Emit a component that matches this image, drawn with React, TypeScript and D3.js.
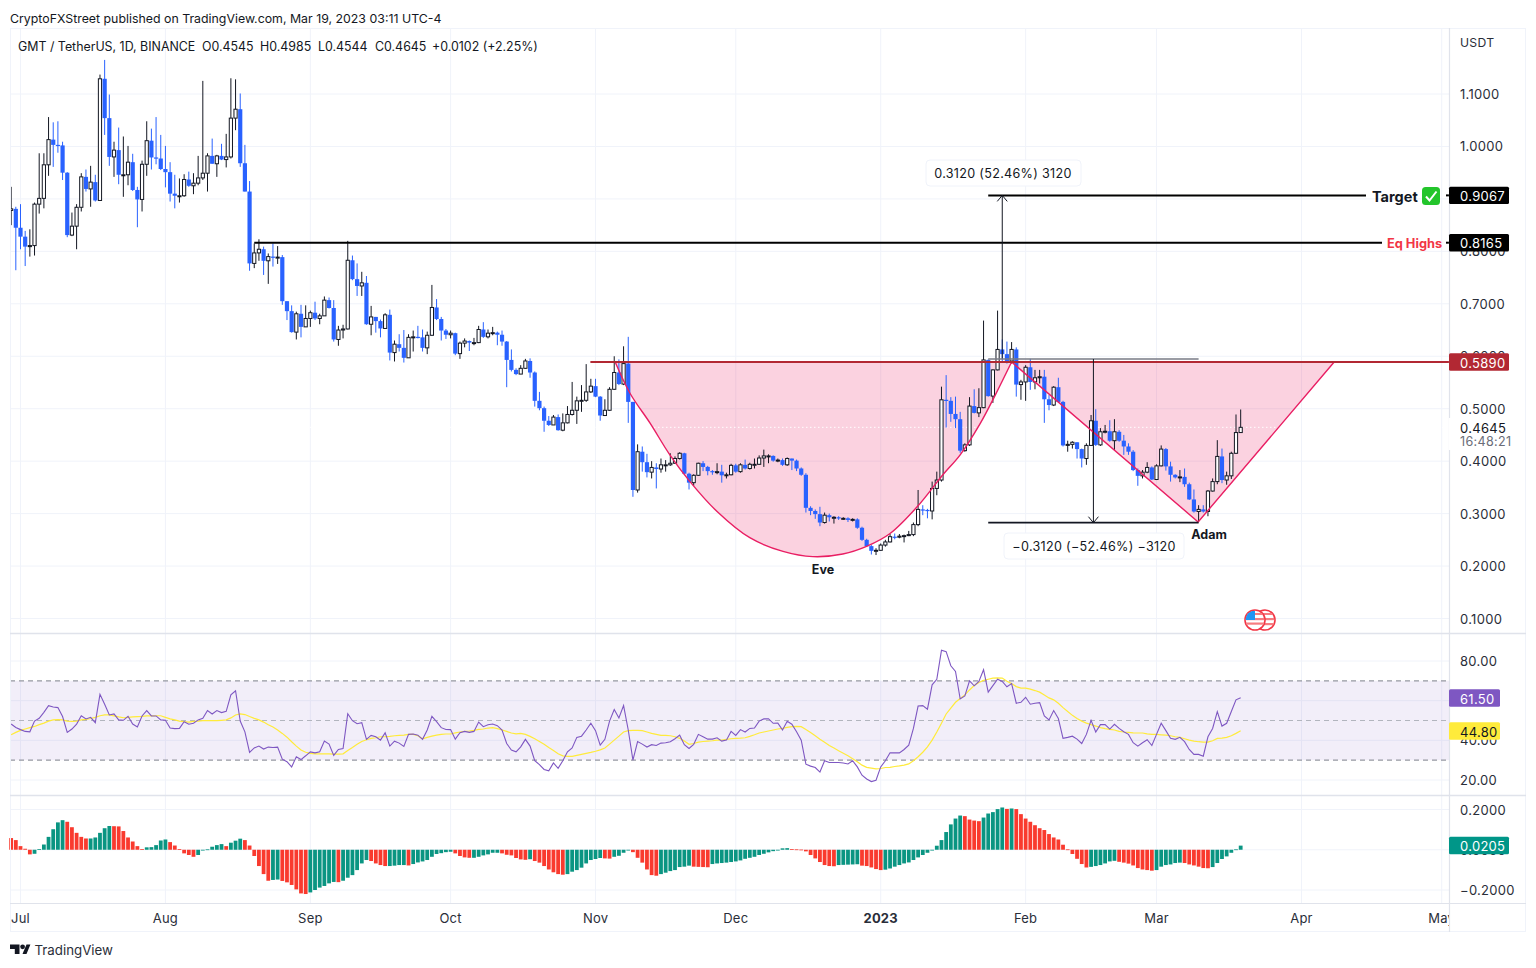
import React from 'react';
import * as d3 from 'd3';

// daily candles, first bar is index -2 (Jun 29), last is 261 (Mar 19)
const firstBar = -2;
const firstOpen = 0.878;
const closes = [
  .881,.845,.828,.809,.811,.890,.901,.965,1.013,1.003,
  1.002,.950,.831,.848,.884,.942,.919,.932,.897,1.129,
  1.054,.980,.993,.946,.946,.970,.917,.899,.966,1.011,
  .979,.977,.957,.951,.910,.906,.906,.937,.925,.930,
  .940,.949,.982,.967,.982,.975,.980,1.054,1.071,.968,
  .914,.777,.797,.804,.782,.790,.788,.789,.705,.686,
  .646,.681,.656,.672,.683,.672,.677,.707,.692,.632,
  .650,.652,.783,.747,.734,.740,.661,.675,.667,.653,
  .679,.607,.623,.616,.597,.636,.637,.636,.616,.640,
  .693,.671,.649,.641,.644,.605,.625,.629,.626,.626,
  .651,.637,.644,.645,.641,.628,.593,.574,.566,.577,
  .591,.569,.515,.501,.477,.469,.484,.459,.473,.489,
  .497,.515,.516,.532,.543,.523,.487,.497,.537,.569,
  .547,.586,.513,.345,.418,.398,.379,.388,.385,.393,
  .393,.396,.405,.415,.376,.359,.373,.396,.389,.381,
  .379,.380,.373,.374,.392,.380,.393,.386,.394,.394,
  .406,.410,.410,.401,.402,.393,.405,.401,.386,.374,
  .311,.305,.299,.283,.297,.293,.293,.291,.291,.288,
  .289,.273,.250,.238,.229,.230,.240,.246,.256,.255,
  .257,.258,.260,.279,.308,.307,.305,.348,.364,.517,
  .515,.490,.480,.420,.431,.505,.492,.502,.593,.524,
  .574,.613,.604,.591,.613,.546,.551,.579,.551,.559,
  .561,.518,.507,.541,.513,.430,.432,.436,.423,.405,
  .430,.477,.431,.456,.457,.439,.456,.439,.428,.418,
  .383,.372,.379,.388,.365,.391,.423,.390,.374,.369,
  .370,.356,.327,.304,.308,.304,.343,.361,.409,.364,
  .372,.415,.4545,.4645,
];
const highs = [
  .923,.885,.890,.839,.842,.893,.987,.987,1.056,1.046,
  1.048,1.009,.951,.874,.890,.949,.956,.963,.946,1.137,
  1.165,1.099,1.009,1.036,1.019,1.001,.986,.923,.973,1.048,
  1.034,1.056,1.022,1.001,.970,.946,.939,.947,.952,.949,
  .982,1.125,.987,1.015,.984,1.005,1.024,1.130,1.128,1.101,
  1.003,.934,.815,.823,.809,.796,.815,.810,.793,.705,
  .697,.685,.698,.697,.687,.704,.681,.714,.712,.707,
  .658,.660,.820,.792,.777,.761,.753,.696,.675,.670,
  .682,.689,.630,.642,.650,.642,.649,.658,.651,.647,
  .736,.709,.675,.652,.649,.645,.628,.634,.630,.635,
  .658,.665,.651,.656,.647,.649,.629,.613,.577,.583,
  .595,.596,.571,.532,.504,.486,.488,.489,.491,.505,
  .551,.523,.545,.585,.557,.557,.524,.518,.541,.600,
  .594,.619,.637,.513,.432,.428,.414,.400,.396,.405,
  .402,.415,.409,.417,.416,.378,.375,.397,.400,.391,
  .383,.396,.393,.378,.395,.395,.396,.403,.397,.405,
  .411,.422,.413,.411,.405,.405,.407,.405,.403,.388,
  .377,.314,.308,.313,.302,.300,.295,.295,.293,.293,
  .291,.291,.275,.252,.240,.234,.243,.250,.261,.262,
  .261,.260,.267,.283,.345,.316,.309,.361,.380,.542,
  .564,.522,.523,.494,.434,.522,.537,.539,.668,.594,
  .575,.687,.632,.628,.627,.617,.555,.583,.595,.574,
  .574,.574,.526,.543,.559,.515,.439,.438,.436,.424,
  .434,.488,.499,.463,.469,.478,.480,.459,.450,.434,
  .421,.386,.383,.398,.390,.394,.430,.425,.399,.375,
  .383,.386,.359,.346,.316,.316,.345,.367,.440,.424,
  .380,.418,.489,.4985,
];
const lows = [
  .850,.764,.804,.772,.790,.792,.872,.882,.944,.961,
  .988,.936,.827,.829,.804,.876,.914,.885,.895,.897,
  1.022,.963,.942,.928,.904,.926,.915,.846,.876,.944,
  .956,.966,.955,.922,.895,.882,.893,.904,.923,.909,
  .926,.936,.914,.967,.942,.974,.960,.977,1.031,.961,
  .914,.763,.768,.782,.755,.738,.771,.776,.698,.669,
  .645,.632,.636,.656,.656,.669,.661,.677,.691,.628,
  .620,.634,.651,.745,.715,.715,.660,.640,.645,.636,
  .653,.592,.590,.609,.588,.597,.609,.634,.609,.604,
  .639,.669,.630,.633,.634,.602,.595,.617,.610,.621,
  .625,.635,.634,.640,.621,.620,.541,.571,.564,.566,
  .576,.559,.504,.497,.456,.467,.469,.458,.457,.472,
  .487,.471,.494,.513,.530,.522,.477,.486,.496,.536,
  .545,.545,.473,.332,.340,.380,.369,.367,.348,.378,
  .380,.391,.395,.403,.374,.346,.353,.372,.381,.373,
  .374,.375,.359,.367,.373,.378,.378,.384,.384,.386,
  .393,.389,.396,.399,.398,.391,.391,.383,.381,.372,
  .302,.297,.290,.276,.281,.285,.281,.288,.288,.284,
  .285,.271,.248,.237,.222,.221,.229,.237,.245,.251,
  .253,.245,.257,.257,.276,.297,.291,.289,.335,.361,
  .464,.475,.463,.416,.418,.429,.491,.484,.501,.523,
  .511,.573,.590,.586,.586,.523,.517,.515,.536,.537,
  .548,.473,.497,.505,.511,.428,.418,.424,.405,.388,
  .393,.429,.429,.429,.453,.437,.421,.437,.412,.412,
  .381,.353,.367,.377,.364,.364,.390,.382,.361,.367,
  .360,.351,.326,.302,.285,.302,.295,.342,.356,.358,
  .355,.366,.414,.4544,
];
const rsi = [
  48.2,46.5,45.4,44.5,44.3,49.7,51.1,54.1,57.5,56.8,
  56.5,52.0,44.0,45.7,48.2,52.4,50.8,51.6,48.9,63.2,
  58.2,52.8,53.3,50.3,50.1,52.1,48.2,46.7,52.3,55.0,
  52.3,52.3,50.3,50.1,46.2,45.9,46.0,49.4,48.1,48.6,
  50.3,51.1,55.0,53.3,55.0,54.0,54.6,62.9,65.0,49.7,
  44.3,33.9,36.2,37.1,35.6,36.6,36.4,36.6,30.5,29.2,
  26.6,31.7,30.3,32.2,34.2,33.7,34.2,39.6,38.1,32.4,
  35.4,35.9,53.4,49.9,48.4,48.9,40.5,42.5,41.8,40.1,
  43.8,37.1,39.6,38.6,36.9,43.0,43.2,42.6,40.5,45.2,
  52.1,49.4,46.4,45.5,45.4,40.6,43.8,44.5,44.0,44.5,
  49.2,46.9,47.9,48.2,47.4,45.2,38.4,35.1,34.2,
  36.7,40.5,37.1,29.7,27.8,25.3,24.6,28.6,25.9,29.7,
  34.2,36.2,41.5,42.1,45.2,48.6,44.9,37.6,40.5,49.7,
  55.5,51.3,57.5,45.2,30.0,39.4,38.1,36.6,37.8,37.4,
  38.6,38.8,39.3,40.8,42.6,37.8,35.9,38.0,43.0,41.8,
  40.6,40.6,41.3,39.6,40.1,44.5,42.5,45.4,44.2,46.0,
  46.2,49.7,50.8,50.9,48.6,48.7,45.2,49.6,48.1,44.3,
  40.1,28.0,27.0,26.3,24.0,29.7,28.8,28.8,28.8,28.6,
  28.1,29.7,26.6,22.4,20.5,19.2,19.9,26.6,29.7,33.7,
  33.7,33.7,35.4,37.6,46.0,57.3,57.5,55.7,68.0,70.8,
  85.4,84.7,77.6,74.7,60.9,62.4,70.0,67.5,69.7,75.6,
  64.3,67.6,70.8,69.7,67.0,68.6,58.7,
  59.2,61.7,58.2,58.7,59.0,52.3,50.3,55.0,51.0,41.0,
  41.5,42.1,40.6,38.4,43.0,50.1,44.2,47.9,47.9,45.7,
  48.1,46.0,44.3,43.0,38.8,37.1,38.8,40.3,37.4,43.0,
  48.6,44.9,41.0,40.5,41.5,39.3,35.4,32.9,32.9,32.0,
  41.8,46.0,54.5,47.2,48.6,54.5,60.4,61.5,
];
const rsiMa = [
  42.8,44.0,45.0,45.7,46.4,47.0,47.9,48.7,49.7,50.3,
  50.4,50.3,49.7,49.6,49.7,50.3,50.6,51.0,51.6,52.4,
  52.8,52.8,52.3,51.8,51.4,51.6,51.8,52.0,52.1,52.3,
  52.3,52.4,52.4,51.6,50.8,50.3,49.7,49.4,49.2,49.6,
  49.7,49.9,49.9,49.9,49.9,50.1,50.3,51.3,52.8,53.3,
  53.0,52.0,51.1,50.3,49.2,47.9,46.7,45.2,43.5,41.6,
  39.3,37.1,35.1,34.0,33.4,33.2,33.2,33.2,33.2,33.0,
  33.0,33.2,34.9,36.4,38.0,39.4,40.3,41.0,41.3,41.8,
  41.8,42.0,42.3,42.5,42.6,43.0,43.0,42.3,40.8,41.5,
  42.1,42.6,43.0,43.2,43.2,43.8,44.2,44.5,44.7,45.0,
  45.5,45.7,46.2,46.4,45.9,45.2,44.5,43.7,43.3,
  43.5,43.0,42.0,40.8,39.4,38.0,36.4,34.9,33.2,32.2,
  31.9,31.9,32.4,32.9,33.4,33.9,34.5,35.2,36.1,38.1,
  40.1,42.1,44.2,44.9,45.0,45.0,44.9,44.2,43.5,43.0,
  42.5,42.5,42.3,41.8,41.0,39.6,38.0,38.4,39.1,39.4,
  39.6,39.8,40.1,40.1,40.5,40.8,41.0,41.1,41.3,42.0,
  42.8,43.7,44.2,44.7,45.2,45.7,46.0,46.5,46.9,47.0,
  46.9,45.5,44.0,42.3,40.6,39.0,37.4,36.1,34.7,33.5,
  32.2,30.7,29.2,27.5,26.4,26.0,25.6,25.8,26.3,26.4,
  26.8,27.1,27.5,28.1,29.7,31.7,34.0,36.7,40.1,44.2,
  48.6,53.3,56.3,59.2,61.1,62.9,65.4,67.6,69.2,70.2,
  70.8,71.4,71.5,71.4,69.8,68.6,67.1,
  66.3,66.3,65.8,65.1,64.3,62.9,61.4,60.4,58.7,56.5,
  54.5,52.6,51.0,49.7,48.7,47.9,47.2,46.4,45.9,45.5,
  45.2,44.5,44.2,44.0,43.8,43.7,43.7,43.3,43.0,43.0,
  42.8,42.6,42.3,41.8,41.5,40.8,40.1,39.6,39.3,39.1,
  39.1,39.8,41.0,41.1,41.5,42.3,43.5,44.8,
];
const oscillator = [
  .058,.048,.018,.005,-.023,-.020,.003,.026,.064,.102,
  .136,.147,.139,.112,.084,.064,.056,.056,.061,.084,
  .107,.118,.117,.116,.093,.061,.041,.018,.003,.012,
  .013,.023,.046,.051,.038,.021,.003,-.018,-.026,-.035,
  -.026,-.002,.002,.015,.023,.028,.018,.035,.045,.055,
  .048,.021,-.031,-.081,-.121,-.154,-.150,-.148,-.155,-.162,
  -.175,-.197,-.217,-.220,-.212,-.200,-.188,-.180,-.167,-.160,
  -.161,-.154,-.139,-.126,-.101,-.068,-.051,-.056,-.068,-.076,
  -.081,-.081,-.079,-.076,-.076,-.078,-.071,-.063,-.058,-.051,
  -.035,-.021,-.017,-.012,-.010,-.018,-.031,-.038,-.040,-.040,
  -.035,-.028,-.023,-.015,-.015,-.018,-.025,-.028,-.041,-.048,
  -.050,-.047,-.056,-.064,-.081,-.098,-.112,-.121,-.124,-.121,
  -.109,-.101,-.089,-.068,-.051,-.046,-.041,-.043,-.044,-.035,
  -.030,-.015,-.002,-.012,-.040,-.064,-.098,-.126,-.129,-.121,
  -.114,-.106,-.101,-.086,-.084,-.079,-.084,-.085,-.086,-.087,
  -.071,-.068,-.066,-.064,-.061,-.058,-.053,-.045,-.040,-.035,
  -.026,-.020,-.013,-.007,-.002,.007,.008,.003,.002,.001,
  -.008,-.026,-.043,-.061,-.076,-.081,-.082,-.076,-.075,-.074,
  -.073,-.072,-.079,-.081,-.088,-.096,-.101,-.099,-.093,-.084,
  -.076,-.068,-.063,-.051,-.038,-.026,-.015,-.002,.020,.048,
  .088,.126,.155,.170,.167,.150,.145,.142,.160,.180,
  .187,.202,.210,.203,.205,.202,.177,.155,.139,.122,
  .107,.098,.078,.061,.051,.025,.002,-.021,-.045,-.071,
  -.088,-.085,-.081,-.076,-.068,-.058,-.055,-.060,-.064,-.069,
  -.078,-.091,-.098,-.101,-.104,-.101,-.084,-.076,-.073,-.066,
  -.064,-.066,-.073,-.078,-.084,-.091,-.092,-.086,-.066,-.046,
  -.033,-.015,.002,.0205,
];

const monthBars = [0, 31, 62, 92, 123, 153, 184, 215, 243, 274, 304];
const monthLabels = ['Jul', 'Aug', 'Sep', 'Oct', 'Nov', 'Dec', '2023', 'Feb', 'Mar', 'Apr', 'May'];
const priceTicks = [0.1, 0.2, 0.3, 0.4, 0.5, 0.6, 0.7, 0.8, 0.9, 1.0, 1.1];
const rsiTicks = [20, 40, 60, 80];
const rsiLevels = [70, 50, 30];
const oscTicks = [-0.2, 0, 0.2];

// rounded bottom of the cup, bar index and price
const eveBars = [127.2, 130.4, 134.7, 138.9, 143.2, 149, 156, 163.1, 169.5, 175.9, 181.1, 186, 191.8, 197.3, 201, 205.3, 208.5, 212];
const evePrices = [.589, .529, .472, .412, .361, .304, .254, .228, .218, .223, .238, .262, .313, .374, .412, .472, .526, .589];
// sharp handle
const adamBars = [212, 251.9, 281];
const adamPrices = [.589, .284, .589];

const necklinePrice = 0.589;
const targetPrice = 0.9067;
const eqHighsPrice = 0.8165;
const lastPrice = 0.4645;
const measureTopPrice = 0.5947;
const measureLowPrice = 0.2827;

const FONT = 'Inter, "Noto Sans", sans-serif';
const TEXT = '#131722';
const GRID = '#f0f3fa';
const AXIS = '#e0e3eb';
const BLUE = '#2962ff';
const PINK = '#e91e63';
const RED_LEVEL = '#b22833';
const UP_BAR = '#0a9582';
const DOWN_BAR = '#f93a2e';

const x = d3.scaleLinear().domain([0, 304]).range([20.5, 1441.7]);
const priceY = d3.scaleLinear().domain([0.1, 1.1]).range([618.5, 94]);
const rsiY = d3.scaleLinear().domain([20, 80]).range([780, 661]);
const oscY = d3.scaleLinear().domain([-0.2, 0.2]).range([890, 809.5]);

const fmtPrice = d3.format('.4f');
const fmtRsi = d3.format('.2f');

const barIndex = (i: number) => i + firstBar;

const rsiLine = d3.line<number>().x((_, i) => x(barIndex(i))).y(d => rsiY(d));
const eveLine = d3.line<number>().x((_, i) => x(eveBars[i])).y(d => priceY(d)).curve(d3.curveCatmullRom);
const adamLine = d3.line<number>().x((_, i) => x(adamBars[i])).y(d => priceY(d));

const AxisTag = ({ y, w, fill, color, label }: { y: number; w: number; fill: string; color: string; label: string }) => (
  <g>
    <rect x={1449} y={y - 8.7} width={w} height={17.4} rx={1.5} fill={fill} />
    <text x={1460} y={y + 0.5} fontSize={13} fill={color} dominantBaseline="central" letterSpacing={0.3}>{label}</text>
  </g>
);

const App = () => {
  const candles = closes.map((c, i) => ({
    bar: barIndex(i),
    open: i ? closes[i - 1] : firstOpen,
    close: c,
    high: highs[i],
    low: lows[i],
  }));
  const measureX1 = x(210);
  const measureX2 = x(229.5);

  return (
    <svg width={1536} height={968} viewBox="0 0 1536 968" fontFamily={FONT}
      style={{ position: 'absolute', left: 0, top: 0, display: 'block', background: '#fff' }}>
      <defs>
        <clipPath id="main-pane"><rect x={10} y={28} width={1439} height={605} /></clipPath>
        <clipPath id="time-pane"><rect x={10} y={904} width={1439} height={28} /></clipPath>
        <clipPath id="flag-a"><circle cx={1255} cy={620} r={9.5} /></clipPath>
        <clipPath id="flag-b"><circle cx={1265} cy={620} r={9.5} /></clipPath>
      </defs>

      <text x={10} y={23} fontSize={12.35} fill={TEXT}>CryptoFXStreet published on TradingView.com, Mar 19, 2023 03:11 UTC-4</text>

      {/* grid */}
      {monthBars.map(m => (
        <line key={m} x1={x(m)} x2={x(m)} y1={28} y2={903} stroke={GRID} />
      ))}
      {priceTicks.map(t => (
        <line key={t} x1={10} x2={1449} y1={priceY(t)} y2={priceY(t)} stroke={GRID} />
      ))}
      {rsiTicks.map(t => (
        <line key={t} x1={10} x2={1449} y1={rsiY(t)} y2={rsiY(t)} stroke={GRID} />
      ))}
      {oscTicks.map(t => (
        <line key={t} x1={10} x2={1449} y1={oscY(t)} y2={oscY(t)} stroke={GRID} />
      ))}

      {/* main pane */}
      <g clipPath="url(#main-pane)">
        <path d={(eveLine(evePrices) || '') + 'Z'} fill={PINK} fillOpacity={0.2} />
        <path d={(adamLine(adamPrices) || '') + 'Z'} fill={PINK} fillOpacity={0.2} />

        <line x1={10} x2={1449} y1={priceY(lastPrice)} y2={priceY(lastPrice)} stroke="#fff" strokeDasharray="1.5 2.5" />

        {candles.map(d => {
          const up = d.close >= d.open;
          const cx = x(d.bar);
          const top = priceY(Math.max(d.open, d.close));
          const bottom = priceY(Math.min(d.open, d.close));
          return (
            <g key={d.bar}>
              <line x1={cx} x2={cx} y1={priceY(d.high)} y2={priceY(d.low)} stroke={up ? '#131722' : BLUE} strokeWidth={1} />
              {up ? (
                <rect x={cx - 1.6} y={top} width={3.2} height={Math.max(bottom - top, 1)} fill="#fff" stroke="#131722" strokeWidth={1} />
              ) : (
                <rect x={cx - 2.1} y={top} width={4.2} height={Math.max(bottom - top, 1.2)} fill={BLUE} />
              )}
            </g>
          );
        })}

        <path d={eveLine(evePrices) || ''} fill="none" stroke={PINK} strokeWidth={1.4} />
        <path d={adamLine(adamPrices) || ''} fill="none" stroke={PINK} strokeWidth={1.4} />

        {/* horizontal levels */}
        <line x1={x(121.9)} x2={1449} y1={priceY(necklinePrice)} y2={priceY(necklinePrice)} stroke={RED_LEVEL} strokeWidth={2} />
        <line x1={x(50)} x2={1382} y1={priceY(eqHighsPrice)} y2={priceY(eqHighsPrice)} stroke="#000" strokeWidth={2} />
        <line x1={1446} x2={1449} y1={priceY(eqHighsPrice)} y2={priceY(eqHighsPrice)} stroke="#000" strokeWidth={2} />
        <line x1={x(207)} x2={1366} y1={priceY(targetPrice)} y2={priceY(targetPrice)} stroke="#000" strokeWidth={2} />
        <line x1={1446} x2={1449} y1={priceY(targetPrice)} y2={priceY(targetPrice)} stroke="#000" strokeWidth={2} />

        {/* measure lines */}
        <line x1={measureX1} x2={measureX1} y1={priceY(measureTopPrice)} y2={priceY(targetPrice)} stroke="#131722" strokeWidth={1} />
        <path d={`M${measureX1 - 5} ${priceY(targetPrice) + 6}L${measureX1} ${priceY(targetPrice)}L${measureX1 + 5} ${priceY(targetPrice) + 6}`} fill="none" stroke="#131722" />
        <line x1={x(207)} x2={x(252)} y1={priceY(measureTopPrice)} y2={priceY(measureTopPrice)} stroke="#787b86" strokeWidth={1.4} />
        <line x1={measureX2} x2={measureX2} y1={priceY(measureTopPrice)} y2={priceY(measureLowPrice)} stroke="#131722" strokeWidth={1} />
        <path d={`M${measureX2 - 5} ${priceY(measureLowPrice) - 6}L${measureX2} ${priceY(measureLowPrice)}L${measureX2 + 5} ${priceY(measureLowPrice) - 6}`} fill="none" stroke="#131722" />
        <line x1={x(207)} x2={x(252)} y1={priceY(measureLowPrice)} y2={priceY(measureLowPrice)} stroke="#131722" strokeWidth={1.6} />
      </g>

      {/* measure labels */}
      <g fontSize={12.6} fill={TEXT} letterSpacing={0.3}>
        <rect x={926} y={160} width={155} height={26} rx={4} fill="#fff" stroke="#f0f3fa" />
        <text x={1003} y={173.5} textAnchor="middle" dominantBaseline="central">0.3120 (52.46%) 3120</text>
        <rect x={1004} y={533} width={180} height={26} rx={4} fill="#fff" stroke="#f0f3fa" />
        <text x={1094} y={546.5} textAnchor="middle" dominantBaseline="central">−0.3120 (−52.46%) −3120</text>
      </g>

      <text x={823} y={569} fontSize={12.5} fontWeight={700} fill={TEXT} textAnchor="middle" dominantBaseline="central">Eve</text>
      <text x={1209} y={534.5} fontSize={12.5} fontWeight={700} fill={TEXT} textAnchor="middle" dominantBaseline="central">Adam</text>

      <text x={1372} y={196.5} fontSize={14.5} fontWeight={700} fill={TEXT} dominantBaseline="central">Target</text>
      <rect x={1422} y={187} width={18} height={18} rx={3.5} fill="#23c52b" />
      <path d="M1426 196.5l3.5 4 7-9" fill="none" stroke="#fff" strokeWidth={2} />
      <text x={1387} y={243} fontSize={12.8} fontWeight={700} fill="#f23645" dominantBaseline="central">Eq Highs</text>

      {/* event flags */}
      <g>
        <circle cx={1265} cy={620} r={10} fill="#fff" stroke="#f23645" strokeWidth={1.6} />
        <g clipPath="url(#flag-b)" fill="#f77c80">
          <rect x={1255} y={613} width={20} height={2} />
          <rect x={1255} y={618} width={20} height={2.2} />
          <rect x={1255} y={623} width={20} height={2.2} />
        </g>
        <circle cx={1255} cy={620} r={10} fill="#fff" stroke="#f23645" strokeWidth={1.6} />
        <g clipPath="url(#flag-a)">
          <rect x={1245} y={618} width={20} height={2.2} fill="#f77c80" />
          <rect x={1245} y={622.5} width={20} height={2.2} fill="#f77c80" />
          <rect x={1245} y={613} width={20} height={2} fill="#f77c80" />
          <rect x={1245} y={611} width={10} height={9} fill="#2196f3" />
        </g>
      </g>

      {/* rsi pane */}
      <rect x={10} y={rsiY(70)} width={1439} height={rsiY(30) - rsiY(70)} fill="#7e57c2" fillOpacity={0.1} />
      {rsiLevels.map(l => (
        <line key={l} x1={10} x2={1449} y1={rsiY(l)} y2={rsiY(l)}
          stroke={l === 50 ? '#b2b5be' : '#9598a1'} strokeWidth={l === 50 ? 1 : 1.3} strokeDasharray="5 4" />
      ))}
      <path d={rsiLine(rsiMa) || ''} fill="none" stroke="#ffeb3b" strokeWidth={1.2} />
      <path d={rsiLine(rsi) || ''} fill="none" stroke="#7e57c2" strokeWidth={1.1} />

      {/* oscillator pane */}
      {oscillator.map((v, i) => {
        const rising = i === 0 ? false : v >= oscillator[i - 1];
        const y0 = oscY(0);
        const y1 = oscY(v);
        return (
          <rect key={i} x={x(barIndex(i)) - 1.9} y={Math.min(y0, y1)} width={3.8} height={Math.max(Math.abs(y1 - y0), 0.8)}
            fill={rising ? UP_BAR : DOWN_BAR} />
        );
      })}

      {/* frame and separators */}
      <rect x={10.5} y={28.5} width={1515} height={903} fill="none" stroke={GRID} />
      <line x1={10} x2={1526} y1={633.5} y2={633.5} stroke={AXIS} strokeWidth={1.4} />
      <line x1={10} x2={1526} y1={795.5} y2={795.5} stroke={AXIS} strokeWidth={1.4} />
      <line x1={10} x2={1526} y1={903.5} y2={903.5} stroke={AXIS} strokeWidth={1.2} />
      <line x1={1449.5} x2={1449.5} y1={28} y2={932} stroke={AXIS} strokeWidth={1.2} />

      <text x={18} y={46.5} fontSize={12.4} fill={TEXT} dominantBaseline="central">GMT / TetherUS, 1D, BINANCE</text>
      <g fontSize={12.4} fill={TEXT}>
        <text x={202} y={46.5} dominantBaseline="central">O0.4545</text>
        <text x={260} y={46.5} dominantBaseline="central">H0.4985</text>
        <text x={318} y={46.5} dominantBaseline="central">L0.4544</text>
        <text x={375} y={46.5} dominantBaseline="central">C0.4645</text>
        <text x={432} y={46.5} dominantBaseline="central">+0.0102 (+2.25%)</text>
      </g>

      {/* right axis */}
      <g fontSize={13} fill="#2a2e39" letterSpacing={0.3}>
        <text x={1460} y={42} fontSize={12.2} dominantBaseline="central">USDT</text>
        {priceTicks.filter(t => t !== 0.9).map(t => (
          <text key={t} x={1460} y={priceY(t)} dominantBaseline="central">{fmtPrice(t)}</text>
        ))}
        {rsiTicks.map(t => (
          <text key={t} x={1460} y={rsiY(t)} dominantBaseline="central">{fmtRsi(t)}</text>
        ))}
        {oscTicks.map(t => (
          <text key={t} x={1460} y={oscY(t)} dominantBaseline="central">{fmtPrice(t)}</text>
        ))}
      </g>

      <AxisTag y={priceY(targetPrice)} w={60} fill="#000" color="#fff" label="0.9067" />
      <AxisTag y={priceY(eqHighsPrice)} w={60} fill="#000" color="#fff" label="0.8165" />
      <AxisTag y={priceY(necklinePrice)} w={60} fill={RED_LEVEL} color="#fff" label="0.5890" />
      <rect x={1449} y={418} width={62} height={32} fill="#fff" />
      <g letterSpacing={0.3}>
        <text x={1460} y={427.5} fontSize={13} fill={TEXT} dominantBaseline="central">0.4645</text>
        <text x={1460} y={441.5} fontSize={12.6} fill="#6a6d78" dominantBaseline="central">16:48:21</text>
      </g>
      <AxisTag y={698} w={51} fill="#7e57c2" color="#fff" label="61.50" />
      <AxisTag y={731} w={51} fill="#ffeb3b" color="#131722" label="44.80" />
      <AxisTag y={845.5} w={60} fill="#009688" color="#fff" label="0.0205" />

      {/* time axis */}
      <g clipPath="url(#time-pane)">
        {monthBars.map((m, i) => (
          <text key={m} x={x(m)} y={918} fontSize={13} textAnchor="middle" dominantBaseline="central"
            fontWeight={monthLabels[i] === '2023' ? 700 : 400} fill="#2a2e39" letterSpacing={0.2}>{monthLabels[i]}</text>
        ))}
      </g>

      {/* logo */}
      <path d="M10 944.5h9.5v9.5h-4.7v-5h-4.8z" fill={TEXT} />
      <circle cx={22.6} cy={946.8} r={2.4} fill={TEXT} />
      <path d="M26.5 944.5h3.9l-3.9 9.5h-4z" fill={TEXT} />
      <text x={34.5} y={949.5} fontSize={13.3} fill="#2a2e39" dominantBaseline="central">TradingView</text>
    </svg>
  );
};

export default App;
